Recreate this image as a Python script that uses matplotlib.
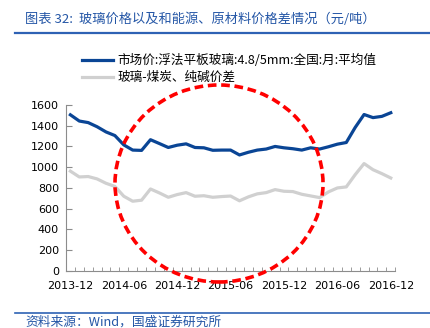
import matplotlib.pyplot as plt
from matplotlib.patches import Ellipse

# monthly data, 2013-12 .. 2016-12
months = ['2013-12', '2014-01', '2014-02', '2014-03', '2014-04', '2014-05', '2014-06',
          '2014-07', '2014-08', '2014-09', '2014-10', '2014-11', '2014-12',
          '2015-01', '2015-02', '2015-03', '2015-04', '2015-05', '2015-06',
          '2015-07', '2015-08', '2015-09', '2015-10', '2015-11', '2015-12',
          '2016-01', '2016-02', '2016-03', '2016-04', '2016-05', '2016-06',
          '2016-07', '2016-08', '2016-09', '2016-10', '2016-11', '2016-12']
glass_price = [1505, 1445, 1430, 1390, 1340, 1305, 1215, 1165, 1162, 1265, 1228, 1190,
               1212, 1225, 1190, 1187, 1163, 1165, 1165, 1118, 1144, 1165, 1175, 1200,
               1187, 1178, 1165, 1187, 1175, 1197, 1222, 1238, 1383, 1508, 1478, 1490, 1525]
glass_spread = [962, 906, 910, 887, 845, 815, 720, 672, 682, 790, 752, 710,
                736, 755, 720, 725, 710, 717, 722, 676, 714, 743, 755, 784,
                768, 765, 739, 723, 707, 762, 800, 810, 928, 1035, 976, 938, 896]
label_price = '市场价:浮法平板玻璃:4.8/5mm:全国:月:平均值'
label_spread = '玻璃-煤炭、纯碱价差'
title = '图表 32:  玻璃价格以及和能源、原材料价格差情况（元/吨）'
source = '资料来源：Wind，国盛证券研究所'

cjk = ['Noto Sans CJK SC', 'DejaVu Sans']
blue_txt = '#2456a6'

fig = plt.figure(figsize=(4.31, 3.28), dpi=100)
ax = fig.add_axes([0.153, 0.174, 0.764, 0.506])

x = list(range(len(months)))
ax.plot(x, glass_price, color='#0a4595', lw=2.3, label=label_price)
ax.plot(x, glass_spread, color='#d0d0d0', lw=2.3, label=label_spread)

ax.set_xlim(-0.5, len(months) - 0.5)
ax.set_ylim(0, 1600)
ax.set_yticks(range(0, 1601, 200))
ax.set_xticks(x[::6])
ax.set_xticklabels(months[::6])
ax.set_xticks([i - 0.5 for i in range(len(months) + 1)], minor=True)

for s in ['top', 'right']:
    ax.spines[s].set_visible(False)
for s in ['left', 'bottom']:
    ax.spines[s].set_color('#8c8c8c')
    ax.spines[s].set_linewidth(0.8)
ax.tick_params(axis='y', direction='in', length=4, color='#8c8c8c', labelsize=8, pad=5)
ax.tick_params(axis='x', which='major', length=0, labelsize=8, pad=7)
ax.tick_params(axis='x', which='minor', direction='in', length=3, color='#8c8c8c')

leg = ax.legend(loc='upper left', bbox_to_anchor=(76 / 431, 1 - 48 / 328),
                bbox_transform=fig.transFigure, frameon=False, borderpad=0,
                handlelength=2.4, handletextpad=0.35, labelspacing=0.3,
                prop={'family': cjk, 'size': 9.1})

# red dashed circle highlighting the flat period
ell = Ellipse((219 / 431, 1 - 183.5 / 328), 208 / 431, 197 / 328,
              transform=fig.transFigure, fill=False, edgecolor='#ff0000',
              lw=2.6, linestyle=(0, (2.4, 1.3)), zorder=10)
fig.add_artist(ell)

fig.text(25 / 431, 1 - 19 / 328, title, color=blue_txt, fontsize=9.5, style='italic',
         family=cjk, va='center', ha='left')
fig.add_artist(plt.Line2D([15 / 431, 1], [1 - 33 / 328] * 2, color='#2e62b4', lw=1.6,
                          transform=fig.transFigure))
fig.add_artist(plt.Line2D([15 / 431, 1], [1 - 313 / 328] * 2, color='#2e62b4', lw=1.2,
                          transform=fig.transFigure))
fig.text(25 / 431, 1 - 322 / 328, source, color=blue_txt, fontsize=9.2, style='italic',
         family=cjk, va='center', ha='left')

fig.savefig('out.png', dpi=100)
